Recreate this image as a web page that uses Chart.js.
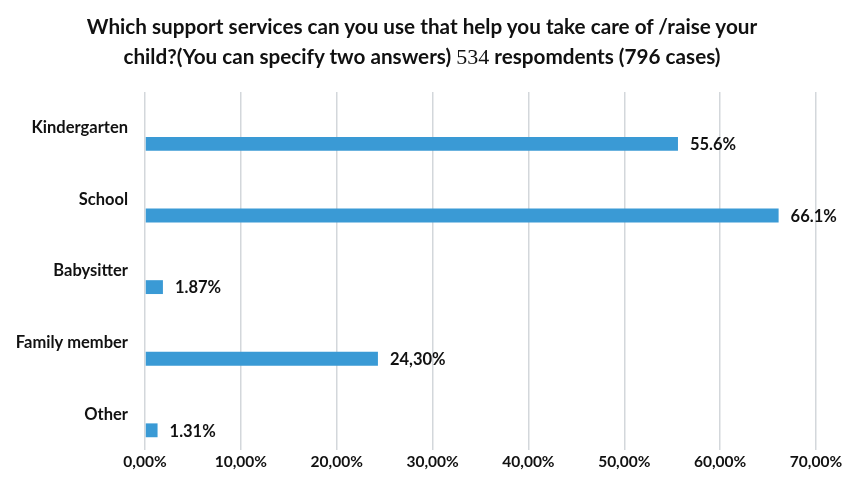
<!DOCTYPE html>
<html>
<head>
<meta charset="utf-8">
<script src="https://cdn.jsdelivr.net/npm/chart.js@4.4.1/dist/chart.umd.min.js"></script>
<style>
  html, body { margin: 0; padding: 0; background: #fff; }
  #wrap { position: relative; width: 844px; height: 486px; }
  #title {
    position: absolute; left: 0; top: 11px; width: 844px;
    text-align: center; font-family: Lato, sans-serif; font-weight: bold;
    font-size: 20.7px; line-height: 30px; color: #111;
  }
  #title .num { font-family: "Liberation Serif", serif; font-weight: normal; font-size: 22px; }
  canvas { position: absolute; left: 0; top: 0; }
</style>
</head>
<body>
<div id="wrap">
  <canvas id="myChart" width="844" height="486"></canvas>
  <div id="title">Which support services can you use that help you take care of /raise your<br>child?(You can specify two answers) <span class="num">534</span> respomdents (796 cases)</div>
</div>
<script>
const categories = ['Kindergarten', 'School', 'Babysitter', 'Family member', 'Other'];
const shares = [55.6, 66.1, 1.87, 24.3, 1.31];
const shareLabels = ['55.6%', '66.1%', '1.87%', '24,30%', '1.31%'];
const xTicks = [0, 10, 20, 30, 40, 50, 60, 70];

const barBlue = '#3a9ad5';
const font = 'Lato, sans-serif';

// writes the percent next to the end of each bar
const valueLabels = {
    id: 'valueLabels',
    afterDatasetsDraw(chart) {
        const ctx = chart.ctx;
        const meta = chart.getDatasetMeta(1);
        ctx.save();
        ctx.font = 'bold 16.5px ' + font;
        ctx.fillStyle = '#111';
        ctx.textAlign = 'left';
        ctx.textBaseline = 'middle';
        meta.data.forEach((bar, i) => {
            ctx.fillText(shareLabels[i], bar.x + 12, bar.y + 1);
        });
        ctx.restore();
    }
};

const ctx = document.getElementById('myChart').getContext('2d');
let myChart = new Chart(ctx, {
    type: 'bar',
    data: {
        labels: categories,
        datasets: [
            // empty slot so the real bar sits in the lower half of each row
            { label: '', data: categories.map(() => null), backgroundColor: 'rgba(0,0,0,0)' },
            { label: 'Share', data: shares, backgroundColor: barBlue, borderWidth: 0 }
        ]
    },
    options: {
        indexAxis: 'y',
        responsive: false,
        animation: false,
        categoryPercentage: 0.9,
        barPercentage: 0.43,
        layout: { padding: { top: 92, right: 28, left: 0, bottom: 0 } },
        plugins: {
            legend: { display: false },
            tooltip: { enabled: false }
        },
        scales: {
            x: {
                min: 0,
                max: 70,
                afterBuildTicks(scale) {
                    scale.ticks = xTicks.map(v => ({ value: v }));
                },
                afterFit(scale) {
                    scale.height = 36;
                    // let the last tick label run into the right margin
                    scale.paddingLeft = 0;
                    scale.paddingRight = 0;
                },
                grid: { color: '#d3d7db', lineWidth: 1.5, drawTicks: false },
                border: { display: false },
                ticks: {
                    padding: 3,
                    color: '#111',
                    font: { family: font, size: 15.5, weight: 'bold' },
                    callback: v => v.toFixed(2).replace('.', ',') + '%'
                }
            },
            y: {
                afterFit(scale) { scale.width = 145; },
                grid: { display: false, drawTicks: false },
                border: { display: false },
                ticks: {
                    padding: 17,
                    color: '#111',
                    font: { family: font, size: 16.5, weight: 'bold' }
                }
            }
        }
    },
    plugins: [valueLabels]
});
</script>
</body>
</html>
